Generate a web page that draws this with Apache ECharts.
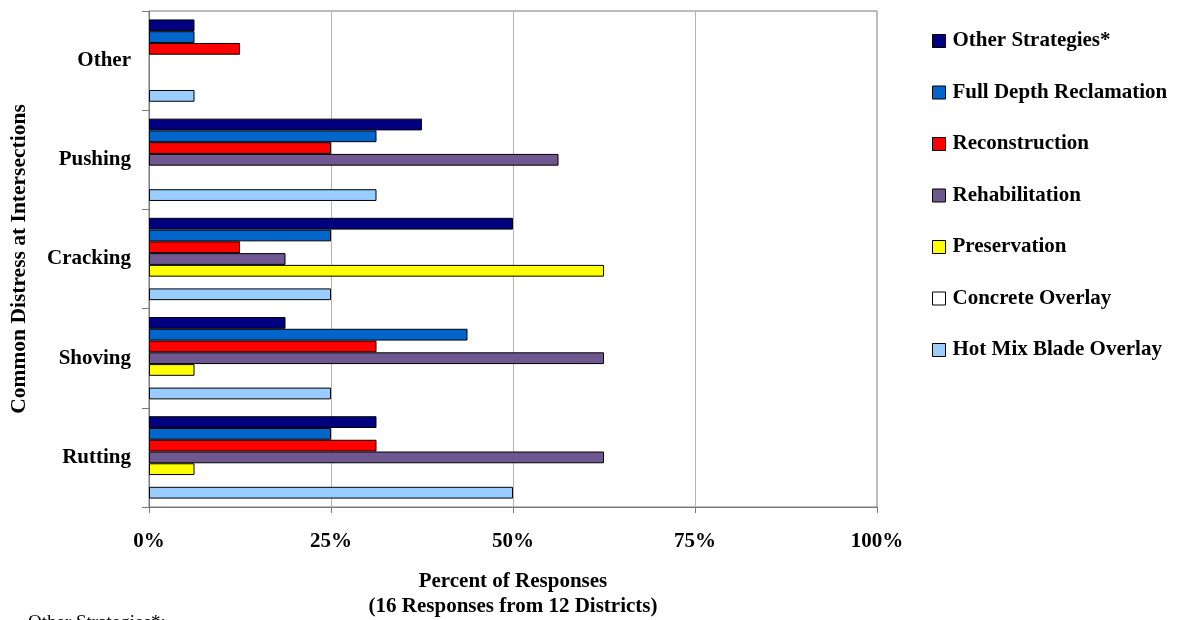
<!DOCTYPE html>
<html>
<head>
<meta charset="utf-8">
<script src="https://cdn.jsdelivr.net/npm/echarts@6/dist/echarts.min.js"></script>
<style>
html,body{margin:0;padding:0;background:#fff;}
#chart{width:1178px;height:620px;}
</style>
</head>
<body>
<div id="chart"></div>
<script>
// Categories bottom to top
const categories = ['Rutting', 'Shoving', 'Cracking', 'Pushing', 'Other'];
const seriesNames = ['Other Strategies*', 'Full Depth Reclamation', 'Reconstruction', 'Rehabilitation', 'Preservation', 'Concrete Overlay', 'Hot Mix Blade Overlay'];
// Percent of responses per category (Rutting, Shoving, Cracking, Pushing, Other)
const otherStrategies   = [31.25, 18.75, 50, 37.5, 6.25];
const fullDepthReclam   = [25, 43.75, 25, 31.25, 6.25];
const reconstruction    = [31.25, 31.25, 12.5, 25, 12.5];
const rehabilitation    = [62.5, 62.5, 18.75, 56.25, 0];
const preservation      = [6.25, 6.25, 62.5, 0, 0];
const concreteOverlay   = [0, 0, 0, 0, 0];
const hotMixBladeOverlay= [50, 25, 25, 31.25, 6.25];
const xTicks = [0, 25, 50, 75, 100];

const seriesValues = [otherStrategies, fullDepthReclam, reconstruction, rehabilitation, preservation, concreteOverlay, hotMixBladeOverlay];
const colors = ['#000080', '#0066CC', '#FF0000', '#6F578F', '#FFFF00', '#FFFFFF', '#99CCFF'];

const FONT = 'Liberation Serif';

const chart = echarts.init(document.getElementById('chart'), null, {renderer: 'canvas'});

const option = {
  animation: false,
  backgroundColor: '#fff',
  grid: {
    left: 149, right: 301, top: 11, bottom: 113,
    outerBoundsMode: 'none',
    containLabel: false,
    show: true, borderColor: '#7a7a7a', borderWidth: 1, backgroundColor: 'transparent'
  },
  legend: {
    orient: 'vertical',
    left: 932, top: 30, padding: 0,
    itemWidth: 13, itemHeight: 13, itemGap: 29.5,
    icon: 'rect',
    data: seriesNames,
    textStyle: {fontFamily: FONT, fontWeight: 'bold', fontSize: 21, color: '#000', lineHeight: 22, padding: [0,0,0,2]},
    itemStyle: {borderColor: '#000', borderWidth: 1}
  },
  xAxis: {
    type: 'value',
    min: xTicks[0], max: xTicks[xTicks.length-1], interval: 25,
    name: 'Percent of Responses\n(16 Responses from 12 Districts)',
    nameLocation: 'middle', nameGap: 62,
    nameTextStyle: {fontFamily: FONT, fontWeight: 'bold', fontSize: 21, color: '#000', lineHeight: 25},
    axisLine: {show: true, lineStyle: {color: '#7a7a7a', width: 1}},
    axisTick: {show: true, inside: false, length: 6, lineStyle: {color: '#7a7a7a'}},
    axisLabel: {formatter: '{value}%', margin: 24, fontFamily: FONT, fontWeight: 'bold', fontSize: 21, color: '#000'},
    splitLine: {show: true, showMinLine: false, showMaxLine: false, lineStyle: {color: '#b4b4b4', width: 1}}
  },
  yAxis: {
    type: 'category',
    data: categories,
    name: 'Common Distress at Intersections',
    nameLocation: 'middle', nameGap: 119,
    nameTextStyle: {fontFamily: FONT, fontWeight: 'bold', fontSize: 21.5, color: '#000'},
    axisLine: {show: true, lineStyle: {color: '#7a7a7a', width: 1}},
    axisTick: {show: true, inside: false, length: 7, lineStyle: {color: '#7a7a7a'}},
    axisLabel: {margin: 18, fontFamily: FONT, fontWeight: 'bold', fontSize: 21, color: '#000'},
    splitLine: {show: false}
  },
  series: seriesNames.map((name, i) => ({
    name: name,
    type: 'bar',
    data: seriesValues[i].map(v => v === 0 ? null : v),
    barGap: '0%',
    barCategoryGap: '17%',
    itemStyle: {color: colors[i], borderColor: '#000', borderWidth: 1}
  })),
  graphic: [{
    type: 'text', left: 28, top: 614,
    style: {text: 'Other Strategies*:', fontFamily: FONT, fontSize: 19, fill: '#000'}
  }]
};
chart.setOption(option);
</script>
</body>
</html>
